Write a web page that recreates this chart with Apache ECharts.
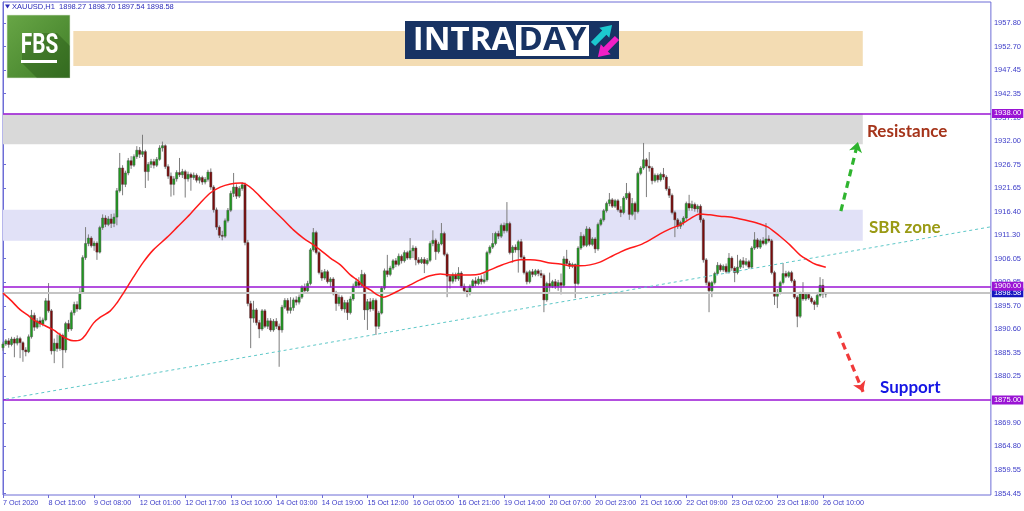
<!DOCTYPE html>
<html><head><meta charset="utf-8">
<script src="https://cdn.jsdelivr.net/npm/echarts@6/dist/echarts.min.js"></script>
<style>html,body{margin:0;padding:0;background:#fff}#c{width:1024px;height:511px}</style>
</head><body><div id="c"></div>
<script>
// ---------- DATA ----------
const xTickIndex = [0,16,32,48,64,80,96,112,128,144,160,176,192,208,224,240,256,272,288];
const xTickLabels = ['7 Oct 2020','8 Oct 15:00','9 Oct 08:00','12 Oct 01:00','12 Oct 17:00','13 Oct 10:00','14 Oct 03:00','14 Oct 19:00','15 Oct 12:00','16 Oct 05:00','16 Oct 21:00','19 Oct 14:00','20 Oct 07:00','20 Oct 23:00','21 Oct 16:00','22 Oct 09:00','23 Oct 02:00','23 Oct 18:00','26 Oct 10:00'];
const yTickValues = [1854.45,1859.55,1864.80,1869.90,1875.15,1880.25,1885.35,1890.60,1895.70,1900.95,1906.05,1911.30,1916.40,1921.65,1926.75,1932.00,1937.10,1942.35,1947.45,1952.70,1957.80];

// hourly candles [open, close, low, high]
const candles = [
[1886.5,1887.3,1885.8,1887.8],[1887.3,1888.0,1886.9,1888.4],[1888.0,1887.2,1886.5,1888.6],[1887.2,1888.4,1886.8,1888.9],[1888.4,1887.5,1884.4,1888.8],
[1887.5,1888.5,1887.0,1889.2],[1888.5,1887.6,1884.2,1888.9],[1887.6,1886.0,1883.4,1887.9],[1886.0,1885.6,1884.6,1886.6],[1885.6,1888.9,1885.3,1889.4],
[1888.9,1893.6,1888.5,1894.8],[1893.6,1891.0,1890.2,1894.2],[1891.0,1892.4,1890.6,1893.0],[1892.4,1891.7,1891.0,1893.3],[1891.7,1892.6,1891.2,1893.1],
[1892.6,1896.8,1892.3,1897.4],[1896.8,1894.6,1894.2,1900.7],[1894.6,1885.8,1885.0,1895.0],[1885.8,1887.5,1883.1,1888.5],[1887.5,1886.3,1885.6,1889.4],
[1886.3,1889.2,1885.8,1889.8],[1889.2,1886.0,1882.0,1889.6],[1886.0,1891.8,1885.4,1892.2],[1891.8,1890.6,1890.0,1892.6],[1890.6,1894.2,1890.2,1894.7],
[1894.2,1896.0,1893.6,1896.6],[1896.0,1895.0,1894.4,1896.7],[1895.0,1898.7,1894.8,1899.8],[1898.7,1906.3,1898.4,1906.8],[1906.3,1909.4,1905.8,1913.0],
[1909.4,1910.6,1908.8,1911.4],[1910.6,1908.9,1908.5,1911.0],[1908.9,1909.5,1907.8,1910.0],[1909.5,1907.5,1905.8,1909.9],[1907.5,1912.9,1907.2,1913.3],
[1912.9,1915.0,1912.4,1915.8],[1915.0,1913.6,1913.0,1915.6],[1913.6,1914.8,1913.2,1915.4],[1914.8,1913.8,1912.8,1915.9],[1913.8,1915.2,1913.0,1916.0],
[1915.2,1921.0,1913.4,1921.6],[1921.0,1926.0,1920.6,1929.3],[1926.0,1922.4,1920.0,1926.6],[1922.4,1924.9,1921.8,1925.4],[1924.9,1927.6,1924.4,1928.2],
[1927.6,1926.6,1925.8,1928.6],[1926.6,1928.5,1926.2,1929.0],[1928.5,1929.9,1928.0,1930.8],[1929.9,1929.0,1928.2,1930.6],[1929.0,1929.6,1928.4,1933.3],
[1929.6,1925.2,1921.6,1930.0],[1925.2,1926.8,1923.2,1927.3],[1926.8,1927.4,1926.0,1928.0],[1927.4,1926.6,1925.9,1928.0],[1926.6,1927.9,1926.2,1928.4],
[1927.9,1930.4,1927.6,1931.0],[1930.4,1930.9,1929.6,1931.8],[1930.9,1926.3,1925.8,1931.2],[1926.3,1924.2,1923.6,1926.8],[1924.2,1922.4,1919.7,1925.0],
[1922.4,1923.6,1920.0,1924.2],[1923.6,1925.0,1923.0,1925.5],[1925.0,1924.5,1924.0,1928.2],[1924.5,1925.2,1923.8,1925.8],[1925.2,1923.6,1919.5,1925.6],
[1923.6,1924.6,1923.0,1925.2],[1924.6,1923.9,1921.0,1925.0],[1923.9,1924.4,1923.4,1925.0],[1924.4,1923.3,1922.8,1924.8],[1923.3,1923.9,1922.6,1924.3],
[1923.9,1922.9,1922.3,1924.3],[1922.9,1923.5,1922.4,1924.0],[1923.5,1925.1,1923.0,1925.6],[1925.1,1921.8,1921.2,1925.9],[1921.8,1916.8,1916.2,1922.2],
[1916.8,1913.0,1912.4,1917.3],[1913.0,1911.2,1910.6,1913.4],[1911.2,1911.0,1910.1,1912.2],[1911.0,1914.4,1910.6,1914.9],[1914.4,1916.7,1914.0,1917.2],
[1916.7,1920.4,1916.3,1921.0],[1920.4,1921.8,1919.6,1924.9],[1921.8,1919.8,1919.2,1922.4],[1919.8,1921.5,1919.4,1922.0],[1921.5,1922.3,1921.0,1922.9],
[1922.3,1909.6,1909.0,1922.8],[1909.6,1896.2,1895.6,1910.2],[1896.2,1893.0,1886.4,1896.8],[1893.0,1894.8,1892.0,1896.8],[1894.8,1892.0,1891.4,1895.2],
[1892.0,1890.6,1888.6,1892.6],[1890.6,1894.6,1890.2,1895.0],[1894.6,1891.2,1890.8,1895.0],[1891.2,1892.4,1890.6,1893.0],[1892.4,1890.4,1890.0,1893.0],
[1890.4,1892.3,1890.0,1892.8],[1892.3,1891.2,1890.6,1893.0],[1891.2,1890.4,1882.3,1891.8],[1890.4,1895.4,1889.8,1895.9],[1895.4,1896.9,1895.0,1897.4],
[1896.9,1894.7,1894.0,1897.4],[1894.7,1895.3,1894.0,1897.6],[1895.3,1897.0,1894.6,1897.5],[1897.0,1896.5,1895.8,1897.8],[1896.5,1897.6,1896.0,1898.2],
[1897.6,1899.8,1897.2,1900.2],[1899.8,1899.0,1898.4,1900.6],[1899.0,1900.6,1898.6,1901.2],[1900.6,1908.0,1900.2,1908.4],[1908.0,1911.8,1907.6,1912.8],
[1911.8,1907.4,1907.0,1912.2],[1907.4,1903.0,1902.6,1907.8],[1903.0,1901.8,1901.2,1903.6],[1901.8,1903.2,1901.4,1903.8],[1903.2,1901.0,1900.6,1903.6],
[1901.0,1901.6,1899.8,1902.0],[1901.6,1898.4,1898.0,1902.0],[1898.4,1896.2,1894.6,1899.0],[1896.2,1897.6,1895.6,1898.2],[1897.6,1895.0,1894.6,1898.0],
[1895.0,1896.4,1894.2,1897.0],[1896.4,1894.2,1892.6,1897.0],[1894.2,1897.2,1893.8,1897.8],[1897.2,1900.0,1896.8,1900.6],[1900.0,1901.0,1899.6,1901.8],
[1901.0,1900.2,1899.6,1902.0],[1900.2,1902.6,1899.8,1903.6],[1902.6,1894.8,1892.6,1903.0],[1894.8,1896.6,1890.4,1897.2],[1896.6,1895.0,1894.4,1897.4],
[1895.0,1896.9,1894.6,1897.4],[1896.9,1891.2,1889.3,1897.3],[1891.2,1894.1,1890.6,1894.6],[1894.1,1899.6,1893.8,1900.0],[1899.6,1903.4,1899.2,1903.9],
[1903.4,1902.6,1902.0,1906.9],[1902.6,1904.0,1902.2,1904.5],[1904.0,1905.6,1903.6,1906.0],[1905.6,1904.8,1904.2,1906.2],[1904.8,1906.6,1904.4,1907.2],
[1906.6,1905.6,1905.0,1907.0],[1905.6,1907.4,1905.2,1907.9],[1907.4,1906.2,1905.8,1907.8],[1906.2,1907.8,1905.8,1910.6],[1907.8,1908.4,1906.2,1909.0],
[1908.4,1905.8,1904.6,1908.8],[1905.8,1905.2,1904.8,1906.4],[1905.2,1905.9,1904.9,1906.4],[1905.9,1905.0,1902.9,1906.4],[1905.0,1905.7,1904.6,1906.2],
[1905.7,1909.4,1905.3,1909.9],[1909.4,1910.1,1908.8,1912.3],[1910.1,1907.6,1905.8,1910.5],[1907.6,1909.3,1907.2,1909.8],[1909.3,1911.6,1909.0,1913.9],
[1911.6,1907.0,1906.6,1912.0],[1907.0,1902.2,1897.6,1907.4],[1902.2,1901.1,1899.5,1902.6],[1901.1,1902.5,1900.6,1903.0],[1902.5,1901.6,1901.0,1903.0],
[1901.6,1902.9,1901.2,1904.2],[1902.9,1900.0,1899.6,1903.3],[1900.0,1899.0,1898.4,1900.6],[1899.0,1898.6,1897.6,1899.6],[1898.6,1900.0,1898.0,1900.4],
[1900.0,1901.2,1899.6,1901.6],[1901.2,1900.6,1900.0,1902.0],[1900.6,1901.6,1900.2,1902.2],[1901.6,1901.0,1900.4,1902.4],[1901.0,1901.4,1900.6,1902.8],
[1901.4,1907.4,1901.0,1907.8],[1907.4,1908.6,1907.0,1909.0],[1908.6,1909.4,1908.2,1911.7],[1909.4,1911.6,1909.0,1912.0],[1911.6,1911.0,1910.4,1912.2],
[1911.0,1913.4,1910.6,1913.8],[1913.4,1912.2,1911.6,1914.0],[1912.2,1913.8,1911.8,1918.5],[1913.8,1907.4,1907.0,1914.2],[1907.4,1908.6,1905.2,1909.0],
[1908.6,1908.0,1907.4,1909.2],[1908.0,1909.8,1903.0,1910.2],[1909.8,1906.4,1906.0,1910.4],[1906.4,1903.0,1902.6,1906.8],[1903.0,1901.0,1900.4,1903.4],
[1901.0,1903.2,1900.6,1903.6],[1903.2,1902.6,1902.0,1903.8],[1902.6,1903.4,1902.2,1903.8],[1903.4,1902.8,1902.2,1903.8],[1902.8,1902.4,1901.8,1903.6],
[1902.4,1897.0,1894.3,1902.8],[1897.0,1900.6,1896.6,1901.0],[1900.6,1900.0,1898.8,1903.0],[1900.0,1901.0,1899.6,1901.4],[1901.0,1900.0,1899.4,1901.6],
[1900.0,1900.8,1899.0,1901.4],[1900.8,1900.2,1898.2,1902.8],[1900.2,1906.0,1899.8,1906.6],[1906.0,1905.0,1904.6,1908.0],[1905.0,1904.4,1903.8,1905.6],
[1904.4,1904.8,1904.0,1905.2],[1904.8,1900.6,1897.4,1905.0],[1900.6,1908.4,1900.2,1908.8],[1908.4,1911.0,1908.0,1911.9],[1911.0,1909.0,1908.6,1911.4],
[1909.0,1912.6,1908.6,1913.2],[1912.6,1909.2,1908.8,1913.0],[1909.2,1910.4,1908.8,1910.8],[1910.4,1908.2,1907.3,1910.8],[1908.2,1913.6,1907.8,1914.0],
[1913.6,1914.6,1913.2,1915.0],[1914.6,1916.6,1914.2,1917.0],[1916.6,1918.2,1916.2,1918.6],[1918.2,1919.0,1917.6,1920.5],[1919.0,1917.6,1917.2,1919.4],
[1917.6,1918.8,1917.2,1919.2],[1918.8,1916.8,1916.4,1919.2],[1916.8,1916.2,1915.2,1917.6],[1916.2,1919.4,1915.8,1919.8],[1919.4,1920.4,1919.0,1922.7],
[1920.4,1915.8,1914.6,1920.8],[1915.8,1918.2,1915.4,1919.4],[1918.2,1916.4,1914.6,1918.6],[1916.4,1924.8,1916.0,1925.2],[1924.8,1926.0,1924.4,1926.4],
[1926.0,1927.8,1925.6,1931.5],[1927.8,1926.4,1919.6,1928.2],[1926.4,1926.0,1925.2,1929.5],[1926.0,1923.2,1922.4,1926.4],[1923.2,1924.4,1922.8,1924.8],
[1924.4,1923.4,1922.8,1924.8],[1923.4,1924.6,1923.0,1925.0],[1924.6,1924.0,1923.4,1926.0],[1924.0,1921.4,1921.0,1924.4],[1921.4,1920.0,1919.4,1922.0],
[1920.0,1916.2,1915.8,1920.4],[1916.2,1914.6,1910.8,1916.6],[1914.6,1913.2,1912.6,1915.0],[1913.2,1914.0,1912.6,1914.4],[1914.0,1915.0,1913.4,1915.4],
[1915.0,1918.2,1914.6,1918.6],[1918.2,1917.2,1916.6,1920.1],[1917.2,1918.0,1916.6,1918.8],[1918.0,1917.0,1916.4,1918.4],[1917.0,1917.6,1916.2,1918.0],
[1917.6,1914.6,1914.0,1918.0],[1914.6,1905.8,1905.2,1915.0],[1905.8,1900.8,1900.2,1906.2],[1900.8,1899.0,1894.3,1901.2],[1899.0,1900.8,1897.6,1901.2],
[1900.8,1902.8,1900.4,1903.2],[1902.8,1904.6,1902.4,1905.3],[1904.6,1903.6,1903.2,1905.0],[1903.6,1904.4,1903.2,1904.8],[1904.4,1903.2,1902.8,1905.0],
[1903.2,1906.2,1902.8,1907.3],[1906.2,1904.0,1903.4,1906.6],[1904.0,1903.0,1900.9,1904.4],[1903.0,1904.2,1902.6,1906.9],[1904.2,1905.6,1903.8,1906.0],
[1905.6,1904.8,1904.0,1906.4],[1904.8,1905.4,1904.4,1906.2],[1905.4,1904.2,1903.8,1905.8],[1904.2,1908.4,1903.8,1908.8],[1908.4,1910.2,1908.0,1911.9],
[1910.2,1908.6,1908.2,1910.6],[1908.6,1910.0,1908.2,1910.4],[1910.0,1909.4,1909.0,1910.8],[1909.4,1910.4,1909.0,1913.9],[1910.4,1910.0,1909.6,1911.2],
[1910.0,1903.0,1902.6,1910.4],[1903.0,1897.8,1895.9,1903.4],[1897.8,1898.6,1895.2,1899.4],[1898.6,1900.8,1898.2,1901.2],[1900.8,1902.8,1900.4,1905.1],
[1902.8,1902.2,1901.8,1903.4],[1902.2,1903.0,1901.8,1903.4],[1903.0,1901.2,1900.8,1903.4],[1901.2,1897.6,1897.2,1901.6],[1897.6,1893.4,1891.0,1898.0],
[1893.4,1898.4,1893.0,1898.8],[1898.4,1897.2,1896.8,1900.9],[1897.2,1898.2,1896.8,1898.6],[1898.2,1897.4,1897.0,1898.6],[1897.4,1896.6,1896.2,1897.8],
[1896.6,1896.0,1894.8,1897.0],[1896.0,1898.0,1895.4,1898.4],[1898.0,1900.2,1897.6,1902.0],[1900.2,1898.3,1897.4,1901.6],[1898.27,1898.58,1897.54,1898.70]
];

// moving average: [bar index, price]
const maPoints = [
[0,1898.5],[2.6,1897.0],[6.1,1894.8],[8.6,1893.7],[10.7,1892.6],[14.2,1891.5],[17.7,1890.4],[20.2,1889.3],[22.6,1888.4],[24.7,1888.0],
[27.2,1888.2],[29,1889.3],[31.8,1891.9],[34.2,1893.2],[37.7,1894.6],[40.2,1896.5],[42.3,1898.5],[45.8,1902.0],[49.3,1905.3],[52.8,1908.0],
[57.7,1910.8],[61.2,1913.0],[65.8,1915.9],[69.3,1918.3],[72.8,1920.5],[76.3,1921.8],[79.9,1922.5],[83.4,1922.7],[85.1,1922.5],[87.9,1921.2],
[91.4,1919.0],[94.9,1916.8],[98.5,1914.6],[102,1912.4],[105.5,1910.6],[109,1909.1],[111.4,1908.0],[115,1906.2],[118.5,1904.7],[122,1902.5],
[124.4,1901.4],[126.5,1900.1],[129,1899.2],[131.5,1898.1],[133.6,1897.6],[136,1898.1],[139.5,1899.2],[143,1900.3],[146.5,1901.4],[150,1902.3],
[153.6,1902.7],[157.1,1902.5],[160.6,1902.5],[164.1,1902.5],[167.6,1902.7],[171.1,1903.6],[174.6,1904.5],[178.1,1905.3],[181.6,1905.8],[185.2,1905.8],
[188.7,1905.6],[192.2,1905.1],[195.7,1904.9],[199.2,1904.5],[202.7,1904.5],[206.2,1904.7],[209.7,1905.3],[213.2,1906.4],[216.8,1907.5],[220.3,1908.4],
[223.8,1909.1],[227.3,1910.2],[230.8,1911.5],[234.3,1912.6],[237.8,1913.5],[241.3,1914.8],[244.8,1915.9],[248.3,1915.7],[251.8,1915.4],[255.4,1915.2],
[258.9,1914.8],[262.4,1914.3],[265.9,1913.7],[268.7,1913.0],[271.1,1911.9],[272.9,1911.0],[276.4,1909.1],[279.9,1906.9],[283.4,1905.5],[285.2,1904.9],[289,1904.2]
];

const resistanceLevel = 1938.00;
const pivotLevel = 1900.00;
const supportLevel = 1875.00;
const bidPrice = 1898.58;
const resistanceZone = [1931.2, 1938.0];
const sbrZone = [1910.0, 1916.8];
const bannerZone = [1948.4, 1956.1];
const zoneEnd = 302;
const bannerStart = 24.7;
const trendLine = [[1.0, 1875.2], [347, 1913.07]];
const upArrow = [[294.3, 1916.5], [300.3, 1931.7]];
const downArrow = [[293.3, 1890.0], [302.1, 1876.8]];

// ---------- CHART ----------
const FONT = "'Liberation Sans', Arial, sans-serif";
const AXIS_COL = '#3c3cc8';
const FRAME = '#6d6dd6';
const chart = echarts.init(document.getElementById('c'), null, {renderer: 'canvas'});

function renderCandle(params, api) {
  const i = api.value(0), o = api.value(1), c = api.value(2), l = api.value(3), h = api.value(4);
  const pO = api.coord([i, o]), pC = api.coord([i, c]), pL = api.coord([i, l]), pH = api.coord([i, h]);
  const w = api.size([1, 0])[0] * 0.78;
  const up = c >= o;
  const top = Math.min(pO[1], pC[1]);
  const hh = Math.max(Math.abs(pO[1] - pC[1]), 1);
  return {
    type: 'group',
    children: [
      {type: 'line', shape: {x1: pH[0], y1: pH[1], x2: pL[0], y2: pL[1]}, style: {stroke: '#7c7c7c', lineWidth: 1}},
      {type: 'rect', shape: {x: pO[0] - w / 2, y: top, width: w, height: hh},
       style: {fill: up ? '#1f9b1f' : '#7c0b0b', stroke: '#4a4a4a', lineWidth: 0.45}}
    ]
  };
}

function levelLine(v, color, bg, width) {
  return {
    yAxis: v,
    lineStyle: {color: color, width: width, type: 'solid'},
    label: {show: true, position: 'end', distance: 1, formatter: v.toFixed(2), color: '#fff',
      backgroundColor: bg, padding: [1, 2, 0, 2], fontSize: 7.6, lineHeight: 8, fontFamily: FONT}
  };
}
function arrowLine(pts, color) {
  return [
    {coord: pts[0], symbol: 'none', lineStyle: {color: color, width: 3.2, type: [7, 5]}, label: {show: false}},
    {coord: pts[1], symbol: 'arrow', symbolSize: [10, 10]}
  ];
}

const option = {
  animation: false,
  backgroundColor: '#ffffff',
  grid: {left: 2.5, right: 33, top: 2, bottom: 16, show: true, borderColor: FRAME, borderWidth: 1},
  xAxis: {
    type: 'value', min: 0, max: 347,
    axisLine: {show: false},
    splitLine: {show: false},
    axisTick: {show: true, customValues: xTickIndex, length: 3, lineStyle: {color: FRAME}},
    axisLabel: {
      customValues: xTickIndex,
      formatter: function (v) { const k = xTickIndex.indexOf(Math.round(v)); return k >= 0 ? xTickLabels[k] : ''; },
      align: 'left', margin: 5, fontSize: 7.2, color: AXIS_COL, fontFamily: FONT
    }
  },
  yAxis: {
    type: 'value', position: 'right', min: 1854.12, max: 1962.48,
    axisLine: {show: true, lineStyle: {color: FRAME}},
    splitLine: {show: false},
    axisTick: {show: true, customValues: yTickValues, length: 3, lineStyle: {color: FRAME}},
    axisLabel: {
      customValues: yTickValues,
      formatter: function (v) { return Number(v).toFixed(2); },
      margin: 3, fontSize: 7.5, color: AXIS_COL, fontFamily: FONT
    }
  },
  series: [
    {
      type: 'line', data: [], z: 1, silent: true,
      markArea: {
        silent: true,
        data: [
          [{xAxis: 0, yAxis: resistanceZone[1], itemStyle: {color: '#d9d9d9'}}, {xAxis: zoneEnd, yAxis: resistanceZone[0]}],
          [{xAxis: 0, yAxis: sbrZone[1], itemStyle: {color: '#e1e1f7'}}, {xAxis: zoneEnd, yAxis: sbrZone[0]}],
          [{xAxis: bannerStart, yAxis: bannerZone[1], itemStyle: {color: '#f3dcb3'}}, {xAxis: zoneEnd, yAxis: bannerZone[0]}]
        ]
      }
    },
    {
      type: 'custom', z: 3, silent: true,
      renderItem: renderCandle,
      encode: {x: 0, y: [1, 2, 3, 4]},
      data: candles.map(function (c, i) { return [i, c[0], c[1], c[2], c[3]]; })
    },
    {
      type: 'line', data: [], z: 4, silent: true,
      markLine: {
        silent: true, symbol: 'none', animation: false,
        data: [
          levelLine(bidPrice, '#c4c4c4', '#1616c0', 2),
          levelLine(pivotLevel, '#9a14d4', '#9a14d4', 1.6),
          levelLine(resistanceLevel, '#9a14d4', '#9a14d4', 1.6),
          levelLine(supportLevel, '#9a14d4', '#9a14d4', 1.6),
          [{coord: trendLine[0], lineStyle: {color: '#5ec8c8', width: 1, type: [3, 3]}, label: {show: false}}, {coord: trendLine[1]}],
          arrowLine(upArrow, '#2fb42f'),
          arrowLine(downArrow, '#f03a3a')
        ]
      }
    },
    {
      type: 'line', z: 5, silent: true, data: maPoints, smooth: 0.3, showSymbol: false,
      lineStyle: {color: '#ff1a1a', width: 1.5}
    }
  ],
  graphic: [
    {type: 'polygon', shape: {points: [[5, 4.5], [10, 4.5], [7.5, 8.5]]}, style: {fill: '#2a2ab8'}, z: 100},
    {type: 'text', x: 12, y: 7, style: {text: 'XAUUSD,H1  1898.27 1898.70 1897.54 1898.58', font: "7.5px " + FONT, fill: '#2a2ab8', verticalAlign: 'middle'}, z: 100},
    // FBS logo
    {type: 'rect', shape: {x: 7, y: 15, width: 63, height: 63}, z: 100,
     style: {fill: {type: 'linear', x: 0, y: 0, x2: 1, y2: 1, colorStops: [{offset: 0, color: '#68a646'}, {offset: 1, color: '#3f7d27'}]}, stroke: '#dfe9d8', lineWidth: 0.6}},
    {type: 'polygon', shape: {points: [[22, 33], [57, 33], [70, 46], [70, 78], [37, 78], [22, 63]]}, style: {fill: 'rgba(20,60,10,0.28)'}, z: 101},
    {type: 'text', x: 39.5, y: 45.5, scaleX: 0.74, z: 102,
     style: {text: 'FBS', font: "bold 28px Roboto, 'Liberation Sans', sans-serif", fill: '#ffffff', align: 'center', verticalAlign: 'middle'}},
    {type: 'rect', shape: {x: 21, y: 60, width: 36, height: 3}, style: {fill: '#ffffff'}, z: 102},
    // INTRADAY logo
    {type: 'rect', shape: {x: 405, y: 21, width: 214, height: 38}, style: {fill: '#183363'}, z: 100},
    {type: 'rect', shape: {x: 516, y: 25, width: 73, height: 31}, style: {fill: '#ffffff'}, z: 101},
    {type: 'text', x: 463.5, y: 41, z: 102,
     style: {text: 'INTRA', font: "bold 33px 'Open Sans', sans-serif", fill: '#ffffff', align: 'center', verticalAlign: 'middle'}},
    {type: 'text', x: 552.5, y: 41, z: 102,
     style: {text: 'DAY', font: "bold 33px 'Open Sans', sans-serif", fill: '#183363', align: 'center', verticalAlign: 'middle'}},
    {type: 'polygon', x: 617, y: 38, rotation: -3 * Math.PI / 4, z: 102,
     shape: {points: [[0, -3], [16, -3], [16, -7], [27, 0], [16, 7], [16, 3], [0, 3]]}, style: {fill: '#f21fc6'}},
    {type: 'polygon', x: 593, y: 44, rotation: Math.PI / 4, z: 103,
     shape: {points: [[0, -3], [16, -3], [16, -7], [27, 0], [16, 7], [16, 3], [0, 3]]}, style: {fill: '#1cc9cf'}},
    // annotations
    {type: 'text', x: 867, y: 132, z: 100,
     style: {text: 'Resistance', font: "bold 17px Lato, 'Open Sans', sans-serif", fill: '#a5341a', verticalAlign: 'middle'}},
    {type: 'text', x: 869, y: 228, z: 100,
     style: {text: 'SBR zone', font: "bold 17px Lato, 'Open Sans', sans-serif", fill: '#9a9a14', verticalAlign: 'middle'}},
    {type: 'text', x: 880, y: 388, z: 100,
     style: {text: 'Support', font: "bold 17px Lato, 'Open Sans', sans-serif", fill: '#1515e4', verticalAlign: 'middle'}}
  ]
};
chart.setOption(option);
</script>
</body></html>
